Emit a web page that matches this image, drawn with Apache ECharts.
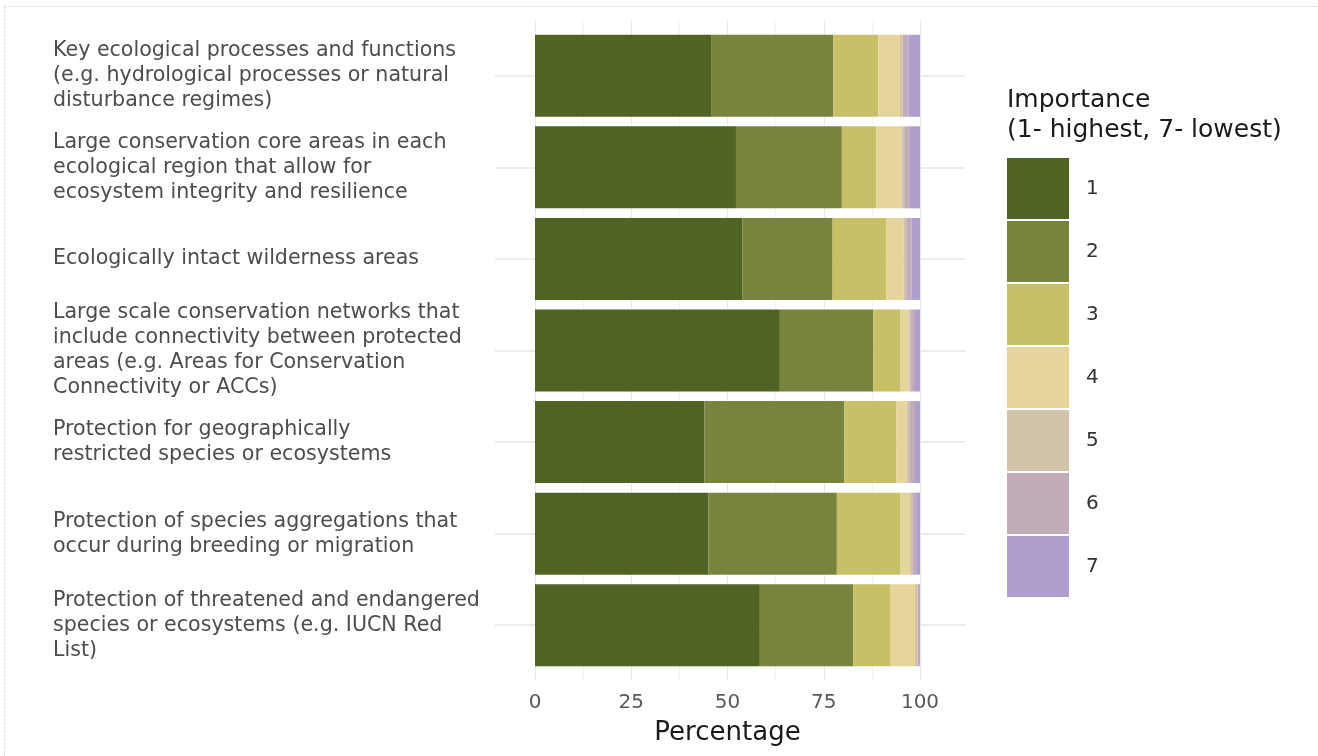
<!DOCTYPE html>
<html>
<head>
<meta charset="utf-8">
<script src="https://cdn.jsdelivr.net/npm/echarts@6/dist/echarts.min.js"></script>
<style>
html,body{margin:0;padding:0;background:#fff;}
#chart{width:1318px;height:756px;}
</style>
</head>
<body>
<div id="chart"></div>
<script>
// ---- data ----
const categories = [
  "Key ecological processes and functions\n(e.g. hydrological processes or natural\ndisturbance regimes)",
  "Large conservation core areas in each\necological region that allow for\necosystem integrity and resilience",
  "Ecologically intact wilderness areas",
  "Large scale conservation networks that\ninclude connectivity between protected\nareas (e.g. Areas for Conservation\nConnectivity or ACCs)",
  "Protection for geographically\nrestricted species or ecosystems",
  "Protection of species aggregations that\noccur during breeding or migration",
  "Protection of threatened and endangered\nspecies or ecosystems (e.g. IUCN Red\nList)"
];
const levels = ["1", "2", "3", "4", "5", "6", "7"];
const imp1 = [45.9, 52.2, 53.9, 63.6, 44.0, 45.0, 58.4];
const imp2 = [31.6, 27.5, 23.4, 24.3, 36.3, 33.4, 24.3];
const imp3 = [11.7, 8.9, 14.0, 6.9, 13.6, 16.4, 9.5];
const imp4 = [5.6, 6.6, 4.4, 2.2, 2.6, 2.6, 6.5];
const imp5 = [0.7, 0.7, 0.7, 0.6, 0.7, 0.6, 0.7];
const imp6 = [1.5, 1.5, 1.4, 1.1, 1.5, 1.0, 0.6];
const imp7 = [3.0, 2.6, 2.2, 1.3, 1.3, 1.0, 0.0];
const xTicks = [0, 25, 50, 75, 100];
const legendTitle = "Importance\n(1- highest, 7- lowest)";
const xTitle = "Percentage";

const values = [imp1, imp2, imp3, imp4, imp5, imp6, imp7];
const colors = ["#4f6323", "#78833d", "#c7c067", "#e6d59b", "#d3c3ab", "#c0adb9", "#ae9dcd"];
const FONT = "DejaVu Sans";

const chart = echarts.init(document.getElementById('chart'));
const option = {
  animation: false,
  backgroundColor: '#ffffff',
  title: {
    text: legendTitle,
    left: 1002, top: 80,
    textStyle: { fontFamily: FONT, fontSize: 25, fontWeight: 'normal', color: '#1a1a1a', lineHeight: 30 }
  },
  legend: {
    data: levels,
    orient: 'vertical',
    left: 1002, top: 153,
    itemWidth: 62, itemHeight: 61, itemGap: 2,
    icon: 'rect',
    selectedMode: false,
    textStyle: { fontFamily: FONT, fontSize: 20, color: '#333', padding: [0, 0, 0, 12] }
  },
  grid: [
    { left: 495, top: 75.8, width: 470, height: 549.4 },
    { left: 535, top: 30, width: 385, height: 641 },
    { left: 535, top: 21, width: 385, height: 659.5 }
  ],
  xAxis: [
    { gridIndex: 0, type: 'value', min: 0, max: 1, show: false },
    { gridIndex: 1, type: 'value', min: 0, max: 100, show: false },
    { gridIndex: 2, type: 'value', min: 0, max: 100, interval: 12.5,
      axisLine: { show: false }, axisTick: { show: false },
      splitLine: { show: true, lineStyle: { color: ['#e8e8e8', '#f3f3f3'], width: 1 } },
      axisLabel: { margin: 12, fontFamily: FONT, fontSize: 20, color: '#595959',
        formatter: function (v) { return xTicks.indexOf(v) >= 0 ? String(v) : ''; } }
    }
  ],
  yAxis: [
    { gridIndex: 0, type: 'value', min: 0, max: 6, interval: 1,
      axisLine: { show: false }, axisTick: { show: false }, axisLabel: { show: false },
      splitLine: { show: true, lineStyle: { color: '#e6e6e6', width: 1.5 } } },
    { gridIndex: 1, type: 'category', inverse: true, data: categories,
      axisLine: { show: false }, axisTick: { show: false }, splitLine: { show: false },
      axisLabel: { align: 'left', margin: 482, fontFamily: FONT, fontSize: 20.6, lineHeight: 25, color: '#4d4d4d' } },
    { gridIndex: 2, type: 'value', show: false }
  ],
  graphic: [
    { type: 'text', left: 'center', top: 0, silent: true, z: 10,
      style: { text: xTitle, x: 727.5, y: 733, align: 'center', verticalAlign: 'middle',
        font: '26px "DejaVu Sans"', fill: '#1a1a1a' }, left: null, top: null },
    { type: 'line', silent: true, shape: { x1: 4.5, y1: 6.5, x2: 1318, y2: 6.5 },
      style: { stroke: '#d6d6d6', lineWidth: 1, lineDash: [2, 2] } },
    { type: 'line', silent: true, shape: { x1: 4.5, y1: 6.5, x2: 4.5, y2: 756 },
      style: { stroke: '#d6d6d6', lineWidth: 1, lineDash: [2, 2] } }
  ],
  series: values.map(function (arr, i) {
    return {
      name: levels[i], type: 'bar', stack: 'total',
      xAxisIndex: 1, yAxisIndex: 1,
      barWidth: 82,
      itemStyle: { color: colors[i] },
      data: arr
    };
  })
};
chart.setOption(option);
</script>
</body>
</html>
